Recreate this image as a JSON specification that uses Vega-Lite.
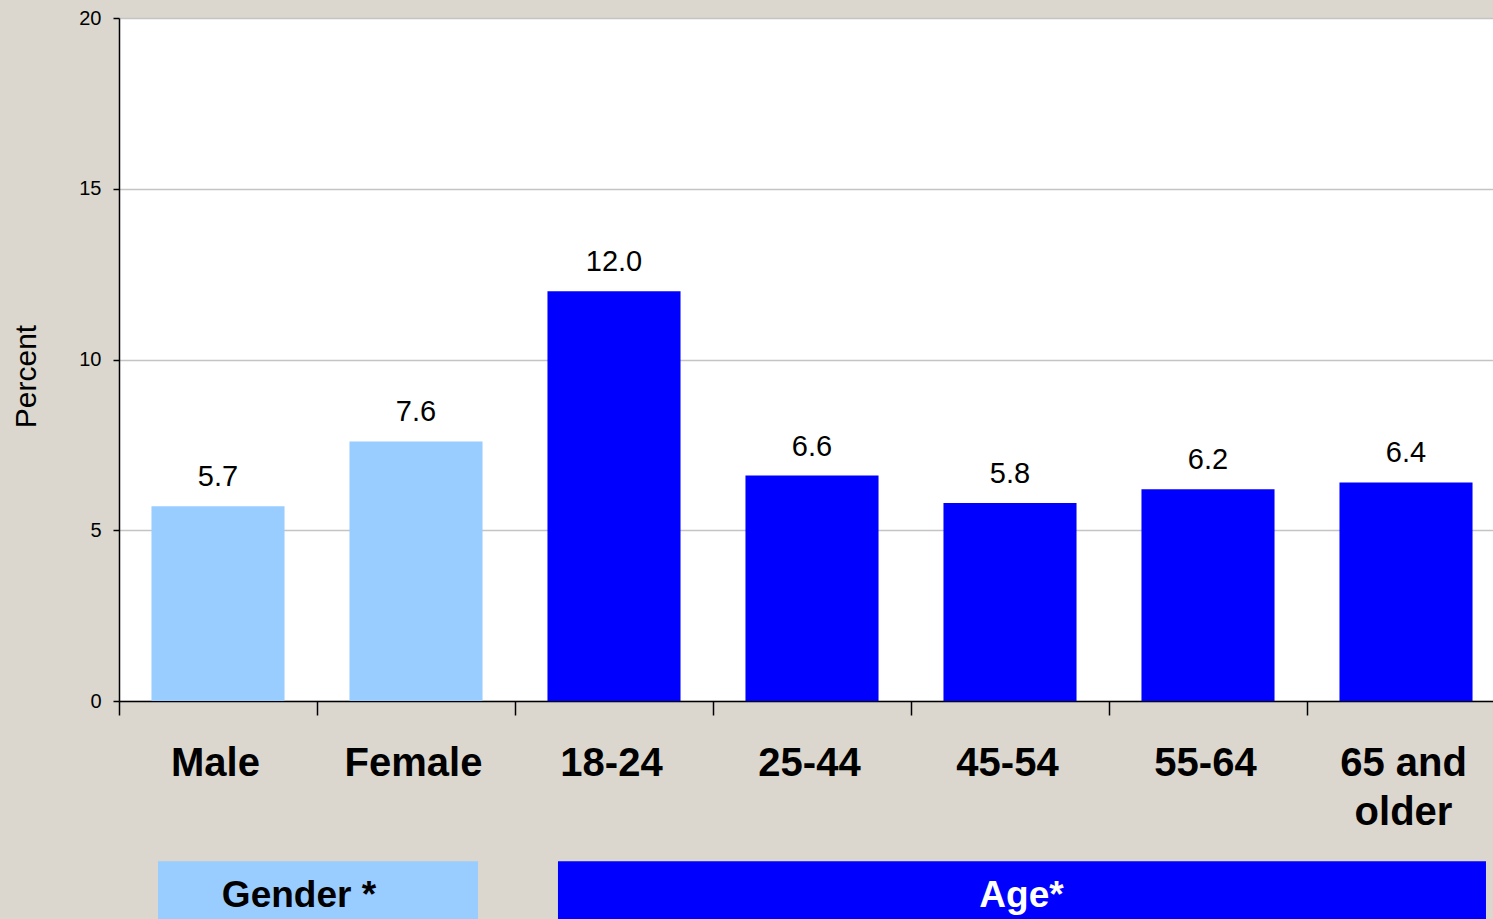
{
  "$schema": "https://vega.github.io/schema/vega-lite/v6.json",
  "autosize": "none",
  "width": 1374,
  "height": 683,
  "padding": {"left": 119, "top": 18, "right": 0, "bottom": 218},
  "background": "#DBD7CE",
  "config": {
    "view": {"fill": "#FFFFFF", "stroke": null},
    "font": "Liberation Sans"
  },
  "datasets": {
    "bars": [
      {"cat": "Male", "group": "Gender", "value": 5.7},
      {"cat": "Female", "group": "Gender", "value": 7.6},
      {"cat": "18-24", "group": "Age", "value": 12.0},
      {"cat": "25-44", "group": "Age", "value": 6.6},
      {"cat": "45-54", "group": "Age", "value": 5.8},
      {"cat": "55-64", "group": "Age", "value": 6.2},
      {"cat": "65 and older", "group": "Age", "value": 6.4}
    ],
    "boxes": [
      {"group": "Gender", "label": "Gender *", "x0": 0.197, "x1": 1.813, "xc": 0.909, "y0": -4.69, "y1": -6.6, "yt": -6.03},
      {"group": "Age", "label": "Age*", "x0": 2.217, "x1": 6.904, "xc": 4.558, "y0": -4.69, "y1": -6.6, "yt": -6.03}
    ]
  },
  "resolve": {"scale": {"x": "independent", "color": "independent"}, "axis": {"x": "independent"}},
  "layer": [
    {
      "data": {"name": "bars"},
      "mark": {"type": "bar", "width": {"band": 0.672}},
      "encoding": {
        "x": {
          "field": "cat", "type": "nominal", "sort": null,
          "scale": {"range": [0, 1386], "paddingInner": 0, "paddingOuter": 0},
          "axis": {
            "title": null, "labelAngle": 0, "tickBand": "extent", "grid": false,
            "domainColor": "#000000", "domainWidth": 1.5, "tickColor": "#000000", "tickWidth": 1.5, "tickSize": 14,
            "labelFont": "Liberation Sans", "labelFontWeight": "bold", "labelFontSize": 40, "labelColor": "#000000",
            "labelPadding": 28, "labelBaseline": "top", "labelLineHeight": 49, "labelOffset": -3,
            "labelExpr": "datum.label == '65 and older' ? ['65 and', 'older'] : datum.label"
          }
        },
        "y": {
          "field": "value", "type": "quantitative",
          "scale": {"domain": [0, 20], "nice": false},
          "axis": {
            "title": "Percent", "values": [0, 5, 10, 15, 20],
            "titleFont": "Liberation Sans", "titleFontWeight": "normal", "titleFontSize": 30, "titleColor": "#000000",
            "titleX": -78, "titleY": 358, "titleBaseline": "bottom", "titleAngle": 270, "titleAlign": "center",
            "labelFont": "Liberation Sans", "labelFontSize": 20, "labelColor": "#000000", "labelPadding": 12,
            "domainColor": "#000000", "domainWidth": 1.5, "tickColor": "#000000", "tickWidth": 1.5, "tickSize": 6,
            "gridColor": "#C4C4C4", "gridWidth": 1.5
          }
        },
        "color": {
          "field": "group", "type": "nominal",
          "scale": {"domain": ["Gender", "Age"], "range": ["#99CCFF", "#0000FF"]},
          "legend": null
        }
      }
    },
    {
      "data": {"name": "bars"},
      "mark": {"type": "text", "baseline": "alphabetic", "dy": -20, "fontSize": 29, "font": "Liberation Sans", "color": "#000000"},
      "encoding": {
        "x": {
          "field": "cat", "type": "nominal", "sort": null,
          "scale": {"range": [0, 1386], "paddingInner": 0, "paddingOuter": 0},
          "axis": null
        },
        "y": {"field": "value", "type": "quantitative", "scale": {"domain": [0, 20], "nice": false}},
        "text": {"field": "value", "type": "quantitative", "format": ".1f"}
      }
    },
    {
      "data": {"name": "boxes"},
      "mark": {"type": "rect"},
      "encoding": {
        "x": {"field": "x0", "type": "quantitative", "scale": {"domain": [0, 7], "range": [0, 1386], "nice": false, "zero": false}, "axis": null},
        "x2": {"field": "x1"},
        "y": {"field": "y0", "type": "quantitative"},
        "y2": {"field": "y1"},
        "color": {
          "field": "group", "type": "nominal",
          "scale": {"domain": ["Gender", "Age"], "range": ["#99CCFF", "#0000FF"]},
          "legend": null
        }
      }
    },
    {
      "data": {"name": "boxes"},
      "mark": {"type": "text", "baseline": "alphabetic", "align": "center", "fontSize": 37, "fontWeight": "bold", "font": "Liberation Sans"},
      "encoding": {
        "x": {"field": "xc", "type": "quantitative", "scale": {"domain": [0, 7], "range": [0, 1386], "nice": false, "zero": false}, "axis": null},
        "y": {"field": "yt", "type": "quantitative"},
        "text": {"field": "label", "type": "nominal"},
        "color": {
          "field": "group", "type": "nominal",
          "scale": {"domain": ["Gender", "Age"], "range": ["#000000", "#FFFFFF"]},
          "legend": null
        }
      }
    }
  ]
}
